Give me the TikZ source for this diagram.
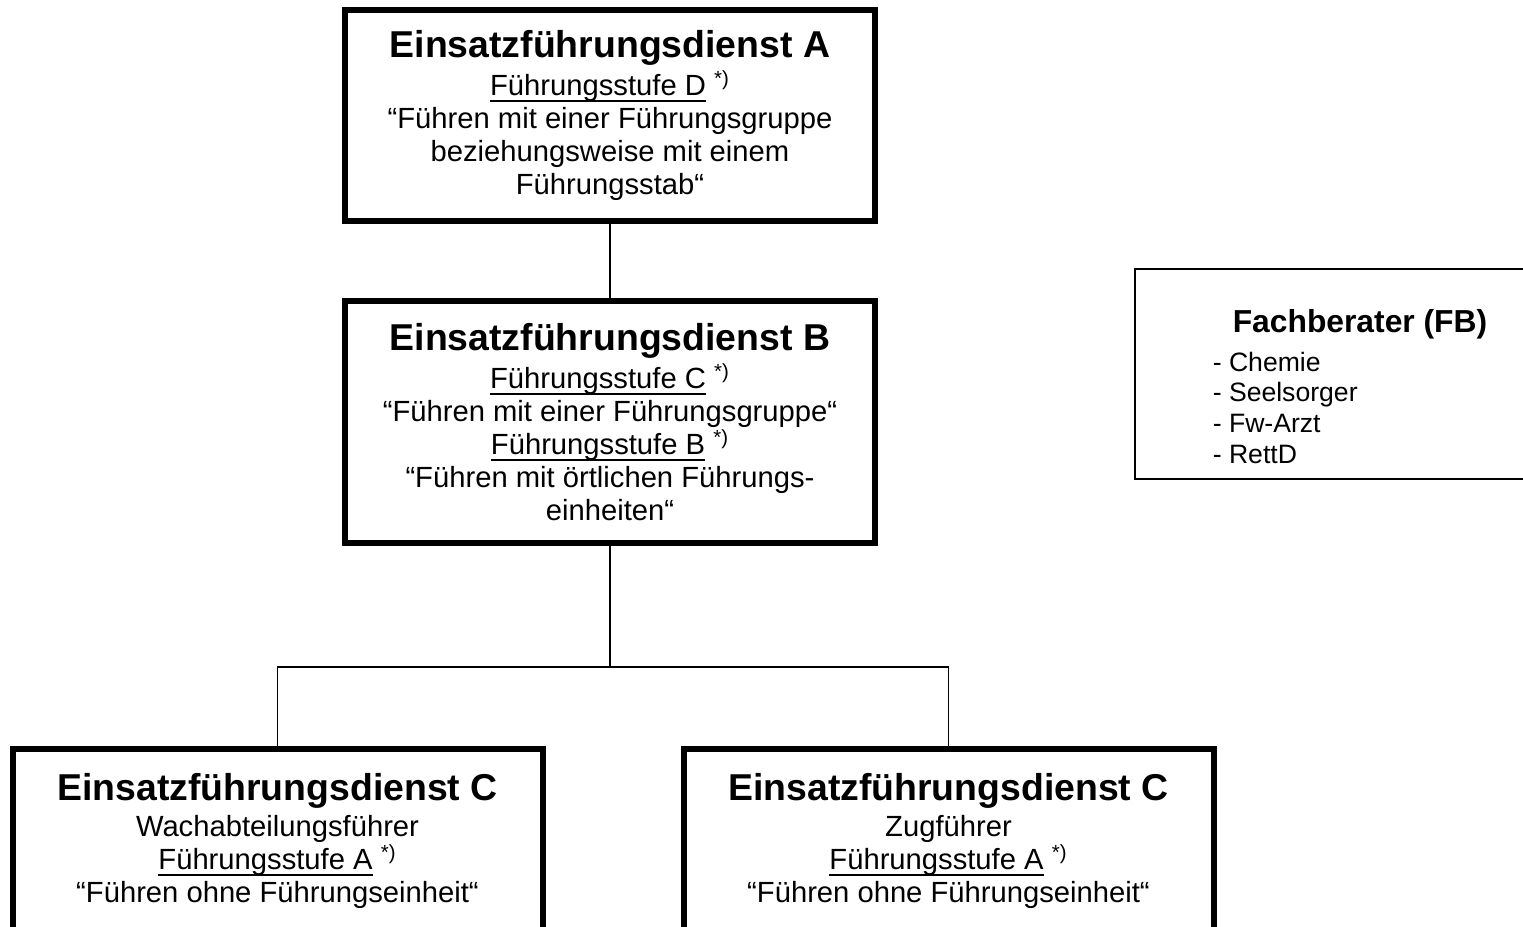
\documentclass[tikz,border=0pt]{standalone}
\usepackage{fontspec}
\setmainfont{Liberation Sans}
\usetikzlibrary{positioning}
\newcommand{\efdtitle}{\fontsize{18.7}{21}\selectfont\bfseries}
\newsavebox{\stufebox}
\newcommand{\stufe}[1]{\sbox{\stufebox}{Führungsstufe #1}%
    \rlap{\rule[-3.4pt]{\wd\stufebox}{1.3pt}}\usebox{\stufebox}\ \textsuperscript{*)}}

\begin{document}
\begin{tikzpicture}[x=0.5pt, y=-0.5pt,
    efdbox/.style={rectangle, draw, line width=3pt, fill=white, align=center,
        minimum width=265pt, inner sep=0pt, font=\fontsize{14.6}{16.5}\selectfont},
    fbbox/.style={rectangle, draw, line width=1pt, fill=white, align=left,
        minimum width=215pt, minimum height=105pt, inner sep=0pt,
        font=\fontsize{13.3}{15.3}\selectfont},
    link/.style={line width=0.9pt}
]
\useasboundingbox (0,0) rectangle (1523,927);
\clip (0,0) rectangle (1523,927);

\node[efdbox, minimum height=105.5pt] (efdA) at (610,115.5) {%
    {\efdtitle Einsatzführungsdienst A}\\[1.5pt]
    \stufe{D}\\
    “Führen mit einer Führungsgruppe\\
    beziehungsweise mit einem\\
    Führungsstab“};
\node[efdbox, minimum height=121pt, below=37pt of efdA] (efdB) {%
    {\efdtitle Einsatzführungsdienst B}\\[1.5pt]
    \stufe{C}\\
    “Führen mit einer Führungsgruppe“\\
    \stufe{B}\\
    “Führen mit örtlichen Führungs-\\
    einheiten“};

\node[efdbox, minimum height=92pt] (efdCw) at (277.5,841) {%
    {\efdtitle Einsatzführungsdienst C}\\[1.5pt]
    Wachabteilungsführer\\
    \stufe{A}\\
    “Führen ohne Führungseinheit“};
\node[efdbox, minimum height=92pt] (efdCz) at (948.5,841) {%
    {\efdtitle Einsatzführungsdienst C}\\[1.5pt]
    Zugführer\\
    \stufe{A}\\
    “Führen ohne Führungseinheit“};

\node[fbbox] (fb) at (1350,374) {%
    \rule{0pt}{24pt}\hspace*{10pt}{\fontsize{15.9}{18}\selectfont\bfseries Fachberater (FB)}\\[4pt]
    - Chemie\\
    - Seelsorger\\
    - Fw-Arzt\\
    - RettD};

% connectors
\coordinate (fork) at (610,667);
\draw[link] (efdA) -- (efdB);
\draw[link] (efdB) -- (fork);
\draw[link] (efdCw.north) |- (fork) -| (efdCz.north);
\end{tikzpicture}
\end{document}
